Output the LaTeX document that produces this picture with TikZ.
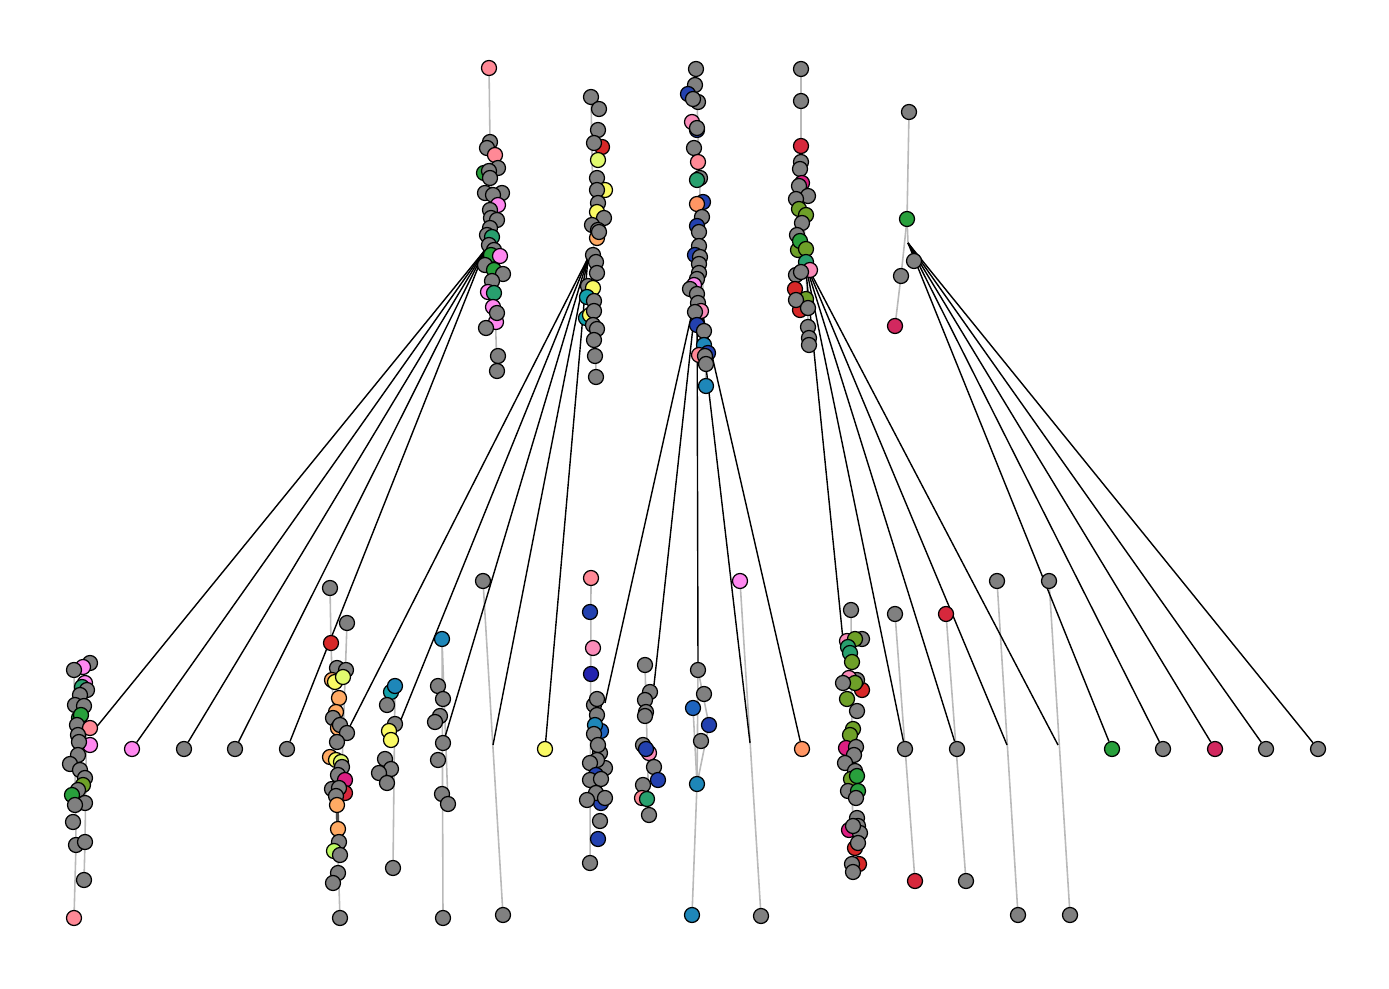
\documentclass[tikz,border=0pt]{standalone}
\pgfdeclarelayer{bg}
\pgfsetlayers{bg,main}
\definecolor{cg}{RGB}{128,128,128}
\definecolor{cs}{RGB}{255,137,150}
\definecolor{cp}{RGB}{250,140,185}
\definecolor{cv}{RGB}{255,136,240}
\definecolor{cr}{RGB}{215,40,40}
\definecolor{ccr}{RGB}{215,40,60}
\definecolor{cmr}{RGB}{210,40,95}
\definecolor{cm}{RGB}{220,30,130}
\definecolor{cgr}{RGB}{40,160,60}
\definecolor{ctg}{RGB}{40,160,110}
\definecolor{col}{RGB}{110,160,40}
\definecolor{cy}{RGB}{250,250,100}
\definecolor{cyg}{RGB}{225,250,110}
\definecolor{clg}{RGB}{190,250,100}
\definecolor{co}{RGB}{255,150,100}
\definecolor{clo}{RGB}{255,170,100}
\definecolor{cb}{RGB}{35,65,175}
\definecolor{cdb}{RGB}{35,35,175}
\definecolor{ccb}{RGB}{30,135,185}
\definecolor{ct}{RGB}{20,160,170}
\definecolor{cmb}{RGB}{30,100,190}
\definecolor{ge}{RGB}{185,185,185}
\tikzset{
  nd/.style={circle,draw=black,line width=0.35pt,inner sep=0pt,minimum size=0.15cm},
  gedge/.style={draw=ge,line width=0.45pt},
  bedge/.style={draw=black,line width=0.4pt},
}
\begin{document}
\begin{tikzpicture}[x=0.01cm,y=-0.01cm]
\begin{pgfonlayer}{bg}
\path[use as bounding box,fill=white] (0,0) rectangle (1389,989);
\end{pgfonlayer}
% hubs and free ends
\coordinate (h1) at (485,250);
\coordinate (h2) at (588,258);
\coordinate (h3) at (697,290);
\coordinate (h4) at (805,262);
\coordinate (h5) at (908,243);
\coordinate (e1) at (90,735);
\coordinate (e2) at (348,730);
\coordinate (e3) at (400,722);
\coordinate (e4) at (445,737);
\coordinate (e5) at (493,745);
\coordinate (e6) at (605,703);
\coordinate (e7) at (654,685);
\coordinate (e8) at (750,743);
\coordinate (e9) at (843,640);
\coordinate (e10) at (1007,745);
\coordinate (e11) at (1058,745);
% ---------- top cluster 1
\foreach \n/\c/\x/\y in {
 a1/cs/489/68, a2/cg/490/142, a3/cg/487/148, a4/cs/495/155, a5/cg/498/168,
 a6/cgr/484/173, a7/cg/489/171, a8/cg/490/178, a9/cg/502/193, a10/cg/485/193,
 a11/cg/493/195, a12/cv/498/205, a13/cg/490/210, a14/cg/491/218, a15/cg/497/220,
 a16/cg/490/228, a17/cg/487/235, a18/ctg/492/237, a19/cg/489/245, a20/cg/494/250,
 a21/cgr/491/255, a22/cv/500/256, a23/cg/485/265, a24/cgr/494/270, a25/cg/503/274,
 a26/cg/492/281, a27/cv/488/292, a28/ctg/494/293, a29/cv/493/307, a30/cv/496/322,
 a31/cg/497/313, a32/cg/486/328, a33/cg/498/356, a34/cg/497/371}
 \node[nd,fill=\c] (\n) at (\x,\y) {};
% ---------- top cluster 2
\foreach \n/\c/\x/\y in {
 b1/cg/591/97, b2/cg/599/109, b3/cg/598/130, b4/cr/602/147, b5/cg/594/143,
 b6/cyg/598/160, b7/cg/597/178, b8/cy/605/190, b9/cg/597/190, b10/cg/598/203,
 b11/cy/597/212, b12/cg/604/218, b13/cg/592/225, b14/cg/598/230, b15/clo/597/238,
 b16/cg/599/232, b17/cg/593/255, b18/cg/596/262, b19/cg/597/273, b20/cg/588/286,
 b21/cy/593/288, b22/ct/587/297, b23/cg/594/301, b24/ct/586/318, b25/cy/590/315,
 b26/cg/594/311, b27/cg/593/325, b28/cg/597/329, b29/cg/594/340, b30/cg/595/356,
 b31/cg/596/377}
 \node[nd,fill=\c] (\n) at (\x,\y) {};
% ---------- top cluster 3
\foreach \n/\c/\x/\y in {
 c1/cg/696/69, c2/cg/695/85, c3/cb/688/94, c4/cg/698/102, c5/cg/693/99,
 c6/cp/692/122, c7/cb/697/130, c8/cg/697/128, c9/cg/694/148, c10/cs/698/162,
 c11/cg/700/178, c12/ctg/697/180, c13/cb/703/202, c14/co/697/204, c15/cg/702/217,
 c16/cb/697/226, c17/cg/699/232, c18/cg/699/246, c19/cb/695/255, c20/cg/700/257,
 c21/cg/699/264, c22/cg/699/273, c23/cg/697/279, c24/cv/694/285, c25/cg/690/289,
 c26/cg/697/294, c27/cg/698/303, c28/cp/701/311, c29/cg/695/312, c30/cb/697/325,
 c31/cg/704/331, c32/ccb/704/345, c33/cb/708/353, c34/cs/699/355, c35/cg/705/356,
 c36/cg/706/364, c37/ccb/706/386}
 \node[nd,fill=\c] (\n) at (\x,\y) {};
% ---------- top cluster 4
\foreach \n/\c/\x/\y in {
 d1/cg/801/69, d2/cg/801/101, d3/ccr/801/146, d4/cg/801/162, d5/cg/800/169,
 d6/cm/802/183, d7/cg/799/186, d8/cg/808/196, d9/cg/796/199, d10/col/799/209,
 d11/col/806/215, d12/cg/802/223, d13/cg/797/235, d14/col/798/250, d15/cgr/800/241,
 d16/col/806/249, d17/ctg/806/262, d18/cp/810/270, d19/cg/796/275, d20/cg/801/272,
 d21/cr/795/289, d22/cr/800/310, d23/col/806/299, d24/cg/796/300, d25/cg/808/308,
 d26/cg/808/327, d27/cg/809/338, d28/cg/809/345}
 \node[nd,fill=\c] (\n) at (\x,\y) {};
% ---------- top cluster 5
\foreach \n/\c/\x/\y in {
 f1/cg/909/112, f2/cgr/907/219, f3/cg/901/276, f4/cmr/895/326, f5/cg/914/261}
 \node[nd,fill=\c] (\n) at (\x,\y) {};
% ---------- bottom cluster 1
\foreach \n/\c/\x/\y in {
 g1/cg/90/663, g2/cv/83/667, g3/cg/74/670, g4/cv/85/683, g5/ctg/82/687,
 g6/cg/87/690, g7/cg/80/695, g8/cg/75/705, g9/cg/84/706, g10/cgr/79/718,
 g11/cgr/81/715, g12/cg/77/725, g13/cs/90/728, g14/cg/78/735, g15/cv/90/745,
 g16/cg/79/742, g17/cg/78/755, g18/cg/70/764, g19/cg/80/770, g20/cg/85/778,
 g21/col/83/785, g22/cg/78/790, g23/cgr/72/795, g24/cg/85/803, g25/cg/75/805,
 g26/cg/73/822, g27/cg/76/845, g28/cg/85/842, g29/cg/84/880, g30/cs/74/918}
 \node[nd,fill=\c] (\n) at (\x,\y) {};
% ---------- bottom cluster 2
\foreach \n/\c/\x/\y in {
 k1/cg/330/588, k2/cg/347/623, k3/cr/331/643, k4/cg/337/668, k5/cg/346/670,
 k6/clo/332/680, k7/cy/335/682, k8/cyg/343/677, k9/clo/339/698, k10/clo/336/712,
 k11/cg/333/718, k12/clo/338/728, k13/cg/340/725, k14/cg/347/733, k15/cg/337/742,
 k16/clo/330/757, k17/cy/336/760, k18/cyg/341/762, k19/cg/342/767, k20/cg/338/775,
 k21/cm/345/780, k22/cg/332/789, k23/ccr/345/793, k24/cg/339/788, k25/cg/336/796,
 k26/clo/337/805, k27/clo/338/829, k28/cg/339/842, k29/clg/334/851, k30/cg/340/855,
 k31/cg/338/873, k32/cg/333/883, k33/cg/340/918}
 \node[nd,fill=\c] (\n) at (\x,\y) {};
% ---------- bottom clusters 3, 4
\foreach \n/\c/\x/\y in {
 m1/ct/391/692, m2/ccb/395/686, m3/cg/387/705, m4/cg/395/724, m5/cy/389/731,
 m6/cy/391/740, m7/cg/385/759, m8/cg/391/769, m9/cg/379/773, m10/cg/387/783,
 m11/cg/393/868,
 q1/ccb/442/639, q2/cg/438/686, q3/cg/443/699, q4/cg/440/716, q5/cg/435/722,
 q6/cg/443/743, q7/cg/438/760, q8/cg/442/794, q9/cg/448/804, q10/cg/443/918,
 q11/cg/483/581, q12/cg/503/915}
 \node[nd,fill=\c] (\n) at (\x,\y) {};
% ---------- bottom cluster 5
\foreach \n/\c/\x/\y in {
 s1/cs/591/578, s2/cb/590/612, s3/cp/593/648, s4/cdb/591/674, s5/cg/594/705,
 s6/cg/597/699, s7/cg/597/715, s8/cmb/601/731, s9/ccb/595/725, s10/cg/594/734,
 s11/cg/600/753, s12/cg/598/745, s13/cg/605/768, s14/cg/597/760, s15/cg/590/763,
 s16/cb/596/775, s17/cg/590/780, s18/cg/601/779, s19/cb/601/803, s20/cg/596/793,
 s21/cg/587/800, s22/cg/605/798, s23/cg/600/821, s24/cb/598/839, s25/cg/590/863}
 \node[nd,fill=\c] (\n) at (\x,\y) {};
% ---------- bottom clusters 6, 7
\foreach \n/\c/\x/\y in {
 t1/cg/645/665, t2/cg/650/692, t3/cg/645/700, t4/cg/646/712, t5/cg/645/716,
 t6/cg/643/745, t7/cp/649/753, t8/cb/646/749, t9/cg/654/767, t10/cb/658/780,
 t11/cg/643/785, t12/cs/642/798, t13/ctg/647/799, t14/cg/649/815,
 u1/cg/698/670, u2/cg/704/694, u3/cmb/693/708, u4/cb/709/725, u5/cg/701/741,
 u6/ccb/697/784, u7/ccb/692/915, u8/cv/740/581, u9/cg/761/916}
 \node[nd,fill=\c] (\n) at (\x,\y) {};
% ---------- bottom cluster 8
\foreach \n/\c/\x/\y in {
 w1/cg/851/610, w2/cg/862/639, w3/cp/847/641, w4/col/855/639, w5/ctg/848/647,
 w6/ctg/850/653, w7/col/852/662, w8/cr/862/690, w9/cg/857/680, w10/cp/849/678,
 w11/col/855/683, w12/cg/843/683, w13/col/847/699, w14/cg/857/711, w15/col/853/729,
 w16/col/850/735, w17/cm/846/748, w18/cg/856/747, w19/cg/854/755, w20/cg/845/763,
 w21/cg/855/771, w22/col/851/779, w23/cgr/857/776, w24/cg/848/791, w25/cgr/858/791,
 w26/cg/856/798, w27/cg/857/818, w28/cm/849/830, w29/cg/858/826, w30/cg/860/833,
 w31/cg/853/826, w32/cr/855/848, w33/cg/858/843, w34/cr/859/864, w35/cg/852/864,
 w36/cg/853/872}
 \node[nd,fill=\c] (\n) at (\x,\y) {};
% ---------- single nodes
\foreach \n/\c/\x/\y in {
 p1/cv/132/749, p2/cg/184/749, p3/cg/235/749, p4/cg/287/749, p5/cy/545/749,
 p6/co/802/749, p7/cg/905/749, p8/cg/957/749, p9/cgr/1112/749, p10/cg/1163/749,
 p11/cmr/1215/749, p12/cg/1266/749, p13/cg/1318/749,
 x1/cg/895/614, x2/ccr/915/881, x3/ccr/946/614, x4/cg/966/881,
 x5/cg/997/581, x6/cg/1018/915, x7/cg/1049/581, x8/cg/1070/915}
 \node[nd,fill=\c] (\n) at (\x,\y) {};
\begin{pgfonlayer}{bg}
% gray edges
\draw[gedge] (a1.center) -- (a2.center) -- (a34.center);
\draw[gedge] (b1.center) -- (b31.center);
\draw[gedge] (c1.center) -- (c37.center);
\draw[gedge] (d1.center) -- (d3.center) -- (d28.center);
\draw[gedge] (f1.center) -- (f2.center) -- (f3.center) -- (f4.center);
\draw[gedge] (f2.center) -- (h5);
\draw[gedge] (g3.center) -- (g27.center) -- (g30.center);
\draw[gedge] (g6.center) -- (g28.center) -- (g29.center);
\draw[gedge] (k1.center) -- (k3.center) -- (k33.center);
\draw[gedge] (k2.center) -- (k19.center);
\draw[draw=black!70,line width=0.9pt] (k26.center) -- (k27.center);
\draw[gedge] (m2.center) -- (m11.center);
\draw[gedge] (q1.center) -- (q10.center);
\draw[gedge] (q1.center) -- (q9.center);
\draw[gedge] (q11.center) -- (q12.center);
\draw[gedge] (s1.center) -- (s25.center);
\draw[gedge] (t1.center) -- (t14.center);
\draw[gedge] (u1.center) -- (u6.center) -- (u7.center);
\draw[gedge] (u1.center) -- (u4.center) -- (u6.center);
\draw[gedge] (u3.center) -- (u6.center);
\draw[gedge] (u8.center) -- (u9.center);
\draw[gedge] (w1.center) -- (w36.center);
\draw[gedge] (x1.center) -- (x2.center);
\draw[gedge] (x3.center) -- (x4.center);
\draw[gedge] (x5.center) -- (x6.center);
\draw[gedge] (x7.center) -- (x8.center);
% black edges
\foreach \t in {e1,p1,p2,p3,p4} \draw[bedge] (h1) -- (\t);
\foreach \t in {e2,e3,e4,e5,p5} \draw[bedge] (h2) -- (\t);
\foreach \t in {e6,e7,u1,e8,p6} \draw[bedge] (h3) -- (\t);
\foreach \t in {e9,p7,p8,e10,e11} \draw[bedge] (h4) -- (\t);
\foreach \t in {p9,p10,p11,p12,p13} \draw[bedge] (h5) -- (\t);
\end{pgfonlayer}
\end{tikzpicture}
\end{document}
